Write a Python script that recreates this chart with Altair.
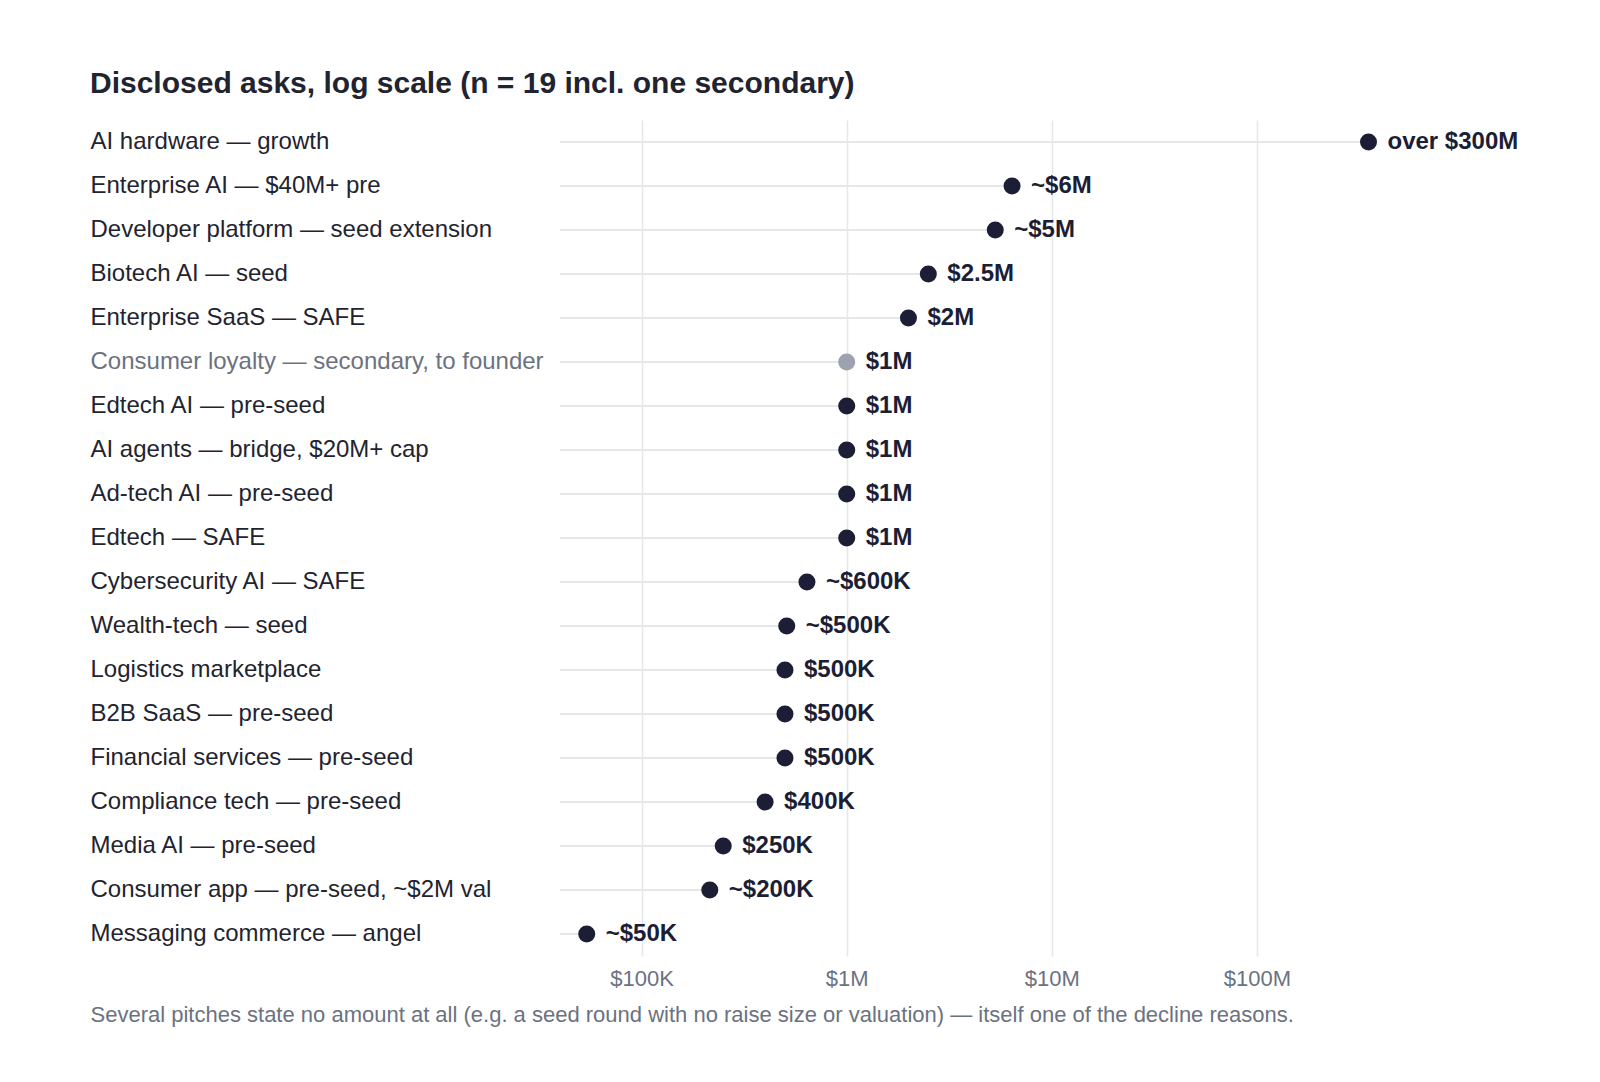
import altair as alt
import pandas as pd

categories = [
    "AI hardware — growth",
    "Enterprise AI — $40M+ pre",
    "Developer platform — seed extension",
    "Biotech AI — seed",
    "Enterprise SaaS — SAFE",
    "Consumer loyalty — secondary, to founder",
    "Edtech AI — pre-seed",
    "AI agents — bridge, $20M+ cap",
    "Ad-tech AI — pre-seed",
    "Edtech — SAFE",
    "Cybersecurity AI — SAFE",
    "Wealth-tech — seed",
    "Logistics marketplace",
    "B2B SaaS — pre-seed",
    "Financial services — pre-seed",
    "Compliance tech — pre-seed",
    "Media AI — pre-seed",
    "Consumer app — pre-seed, ~$2M val",
    "Messaging commerce — angel",
]
amounts = [350e6, 6.4e6, 5.3e6, 2.5e6, 2.0e6, 1.0e6, 1.0e6, 1.0e6, 1.0e6, 1.0e6,
           640e3, 510e3, 500e3, 500e3, 500e3, 400e3, 250e3, 215e3, 54e3]
value_labels = ["over $300M", "~$6M", "~$5M", "$2.5M", "$2M", "$1M", "$1M", "$1M", "$1M", "$1M",
                "~$600K", "~$500K", "$500K", "$500K", "$500K", "$400K", "$250K", "~$200K", "~$50K"]
is_secondary = [c.startswith("Consumer loyalty") for c in categories]

tick_values = [1e5, 1e6, 1e7, 1e8]
axis_min = 40000
axis_max = 1e9

df = pd.DataFrame({
    "cat": categories,
    "amount": amounts,
    "label": value_labels,
    "secondary": is_secondary,
})
df["start"] = axis_min

FONT = "Liberation Sans"
DARK = "#1b1e35"
GREY_DOT = "#9ca3af"
TEXT = "#1f2430"
MUTED = "#6b7280"
GRID = "#e5e7eb"

footer = ("Several pitches state no amount at all (e.g. a seed round with no raise size "
          "or valuation) — itself one of the decline reasons.")

x_scale = alt.Scale(type="log", domain=[axis_min, axis_max], nice=False)
y_enc = alt.Y(
    "cat:N",
    sort=categories,
    axis=alt.Axis(
        title=None,
        domain=False,
        ticks=False,
        tickSize=0,
        grid=False,
        labelAlign="left",
        labelPadding=470,
        labelFont=FONT,
        labelFontSize=24,
        labelLimit=480,
        labelColor=alt.condition(
            "datum.value == 'Consumer loyalty — secondary, to founder'",
            alt.value(MUTED),
            alt.value(TEXT),
        ),
    ),
)

x_axis = alt.Axis(
    values=tick_values,
    labelExpr="datum.value >= 1e6 ? '$' + format(datum.value / 1e6, 'd') + 'M' : '$' + format(datum.value / 1e3, 'd') + 'K'",
    domain=False,
    ticks=False,
    tickSize=0,
    grid=True,
    gridColor=GRID,
    gridWidth=1.5,
    labelFont=FONT,
    labelFontSize=22,
    labelColor=MUTED,
    labelPadding=12,
    title=footer,
    titleFont=FONT,
    titleFontSize=22,
    titleFontWeight="normal",
    titleColor=MUTED,
    titleAlign="left",
    titleAnchor="start",
    titleX=-470,
    titleY=58,
    titleBaseline="middle",
    titleLimit=1450,
)

base = alt.Chart(df)

rules = base.mark_rule(color=GRID, strokeWidth=2).encode(
    x=alt.X("start:Q", scale=x_scale, axis=x_axis),
    x2="amount:Q",
    y=y_enc,
)

dots = base.mark_circle(size=290, opacity=1).encode(
    x=alt.X("amount:Q", scale=x_scale),
    y=alt.Y("cat:N", sort=categories),
    color=alt.condition(alt.datum.secondary, alt.value(GREY_DOT), alt.value(DARK)),
)

texts = base.mark_text(
    align="left", baseline="middle", dx=19, font=FONT, fontSize=24, fontWeight="bold", color=DARK
).encode(
    x=alt.X("amount:Q", scale=x_scale),
    y=alt.Y("cat:N", sort=categories),
    text="label:N",
)

chart = (
    alt.layer(rules, dots, texts)
    .properties(
        width=902,
        height=836,
        padding={"left": 82, "top": 61, "right": 10, "bottom": 10},
        title=alt.TitleParams(
            "Disclosed asks, log scale (n = 19 incl. one secondary)",
            anchor="start",
            font=FONT,
            fontSize=30,
            fontWeight="bold",
            color=TEXT,
            offset=21,
        ),
    )
    .configure(background="white")
    .configure_view(strokeWidth=0, stroke="transparent")
)

chart.save("out.html", embed_options={"renderer": "svg", "actions": False})
